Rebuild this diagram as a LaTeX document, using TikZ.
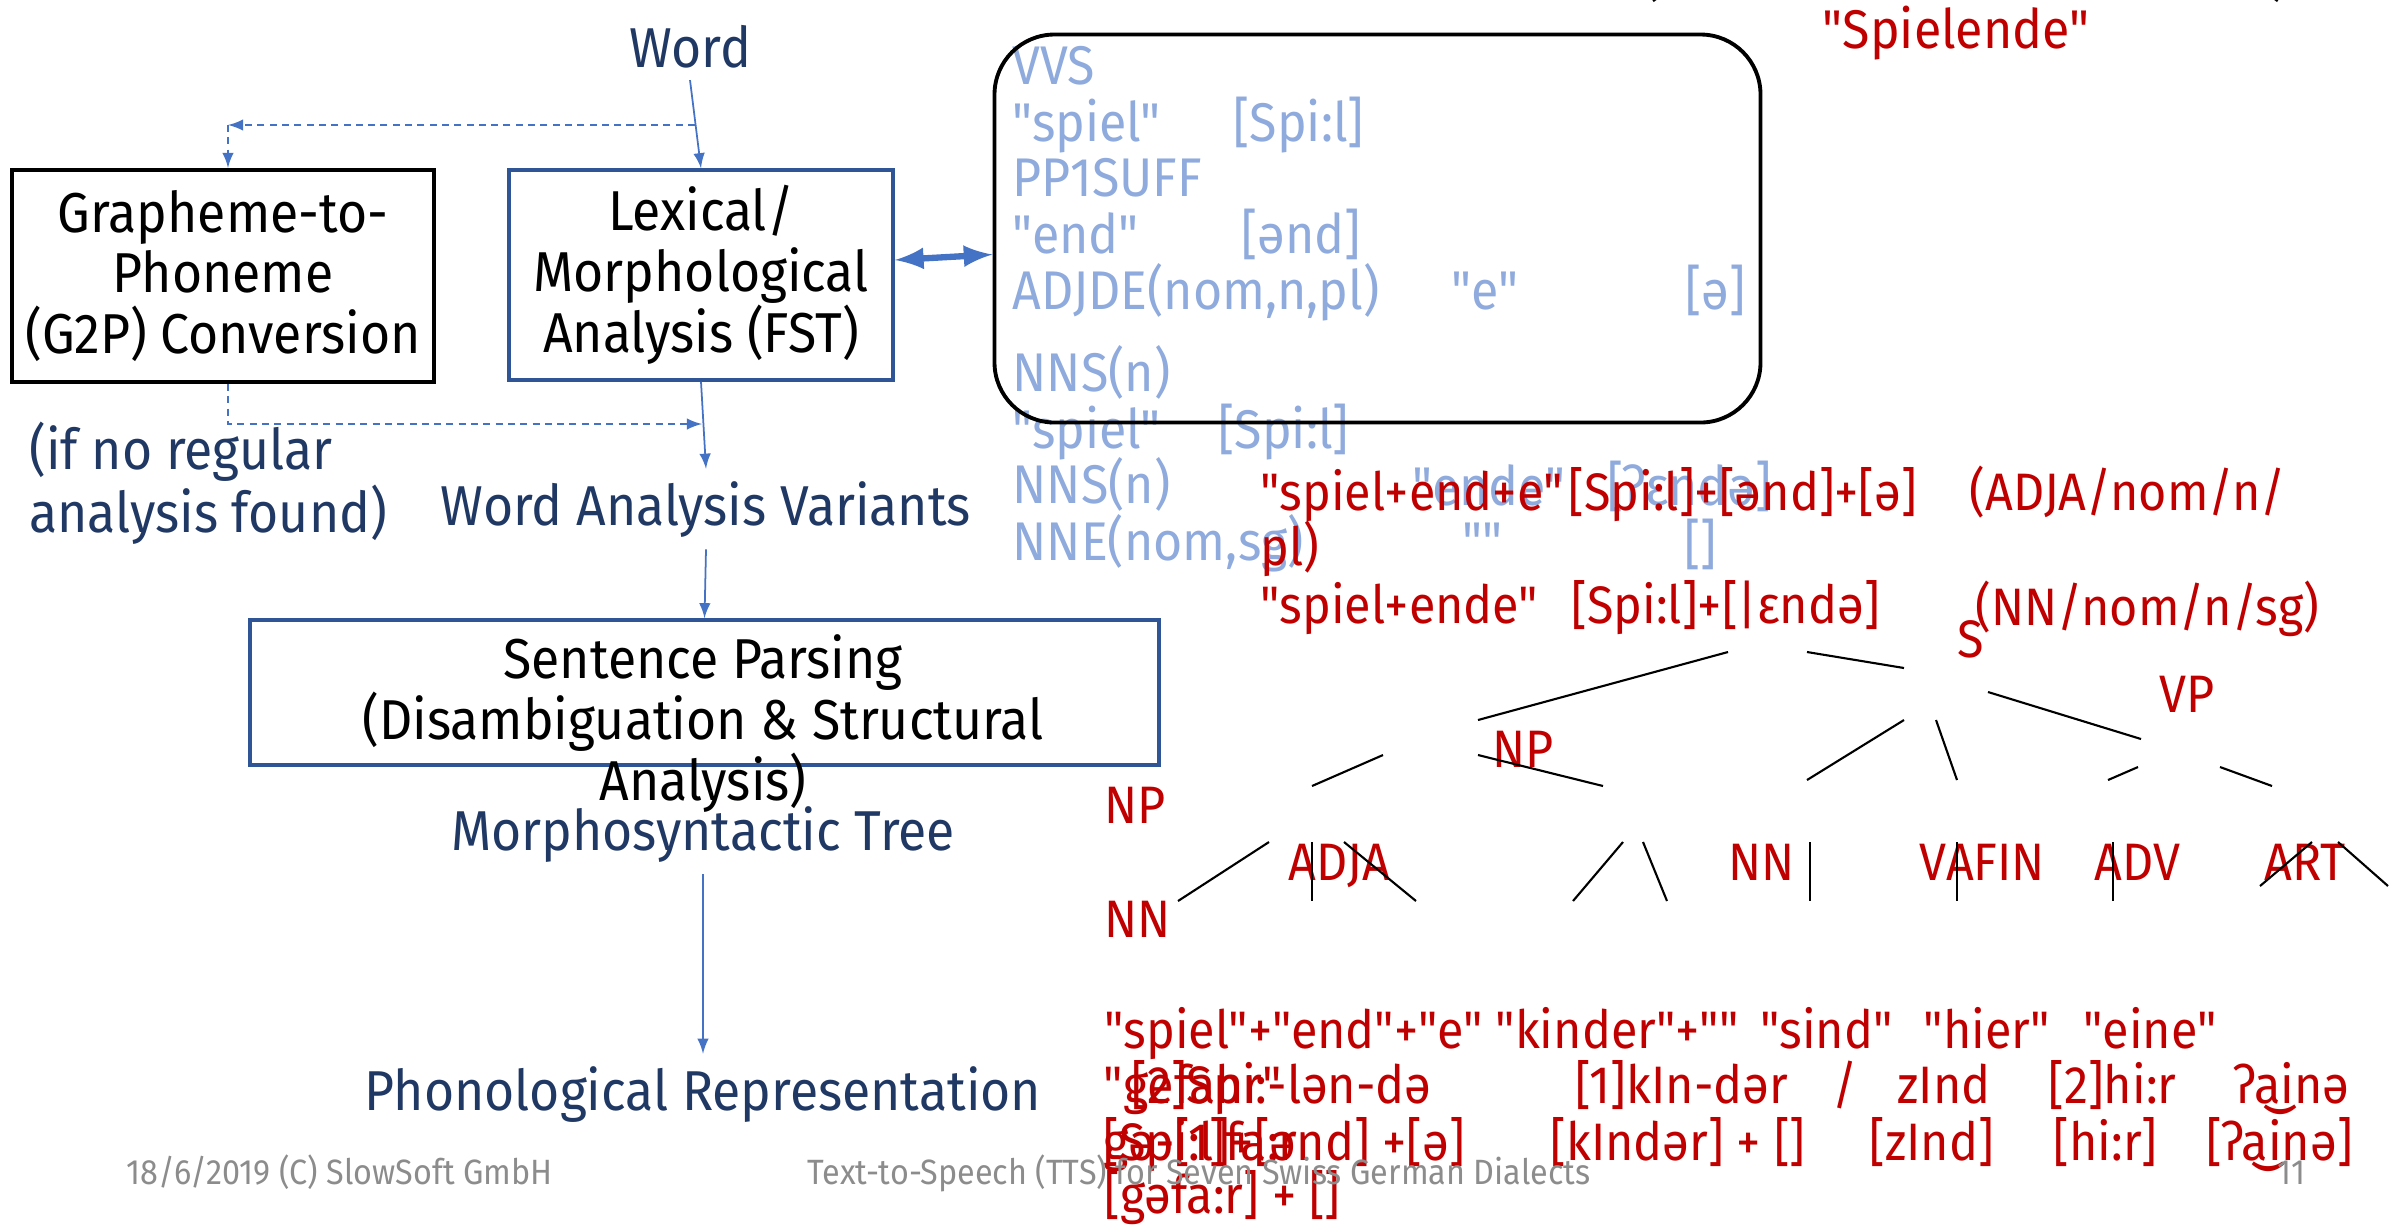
\documentclass[tikz,border=0pt]{standalone}
\usepackage{fontspec}
\setmainfont{Fira Sans}[FakeStretch=0.92, Ligatures=TeXOff]
\usepackage{tikz}
\usetikzlibrary{arrows,positioning}

\definecolor{navy}{HTML}{203864}
\definecolor{lexblue}{HTML}{8FAADC}
\definecolor{boxblue}{HTML}{2F5597}
\definecolor{linkblue}{HTML}{4472C4}
\definecolor{parsered}{HTML}{C00000}
\definecolor{footgrey}{HTML}{8C8C8C}

\newcommand{\slidefont}{\fontsize{16}{17.3}\selectfont}
\newcommand{\entryfont}{\fontsize{15.5}{17.3}\selectfont}
\newcommand{\tagfont}{\fontsize{15}{17.3}\selectfont}

\begin{document}
\begin{tikzpicture}[
    stagebox/.style={rectangle, draw=boxblue, line width=1pt, align=center, font=\slidefont, inner sep=0pt},
    flowlabel/.style={text=navy, font=\slidefont, anchor=base},
    lexline/.style={text=lexblue, font=\entryfont, anchor=base west, inner sep=0pt},
    parseline/.style={text=parsered, font=\tagfont, anchor=base west, inner sep=0pt},
    footer/.style={text=footgrey, font=\fontsize{10}{12}\selectfont, anchor=base west, inner sep=0pt},
    flow/.style={-latex, draw=linkblue, line width=0.5pt},
    fallback/.style={flow, dash pattern=on 2pt off 1.5pt},
    link/.style={latex-latex, draw=linkblue, line width=1.8pt},
    branch/.style={draw=black, line width=0.6pt}
]
\useasboundingbox (0,0) rectangle (24.05,-12.26);

% Pipeline on the left
\node[flowlabel] (word) at (6.90,-0.67) {Word};
\node[stagebox, draw=black, line width=1.2pt, minimum width=4.22cm, minimum height=2.12cm] (g2p) at (2.23,-2.76) {Grapheme-to-\\Phoneme\\(G2P) Conversion};
\node[stagebox, minimum width=3.84cm, minimum height=2.10cm] (lex) at (7.01,-2.75) {Lexical/\\Morphological\\Analysis (FST)};
\node[flowlabel, anchor=base west, align=left, font=\fontsize{16}{16.2}\selectfont] (noanalysis) at (0.17,-5.32) {(if no regular\\analysis found)};
\node[flowlabel] (variants) at (7.06,-5.25) {Word Analysis Variants};
\node[stagebox, minimum width=9.09cm, minimum height=1.45cm] (parse) at (7.045,-6.925) {};
\node[font=\slidefont, align=center, anchor=base, inner sep=0pt] (parsetext) at (7.03,-8.00) {Sentence Parsing\\(Disambiguation \& Structural\\Analysis)};
\node[flowlabel] (morph) at (7.03,-8.50) {Morphosyntactic Tree};
\node[flowlabel] (phon) at (7.03,-11.10) {Phonological Representation};

% Connectors
\coordinate (split) at (6.95,-1.25);
\coordinate (g2pcorner) at (2.28,-1.25);
\coordinate (g2pjoin) at (7.02,-4.24);
\draw[flow] (word.south) -- (lex.north);
\draw[fallback] (split) -- (g2pcorner);
\draw[fallback] (g2pcorner) -- (g2pcorner |- g2p.north);
\draw[fallback] (g2pcorner |- g2p.south) |- (g2pjoin);
\draw[flow] (lex.south) -- (variants.north);
\draw[flow] (variants.south) -- (parse.north);
\draw[flow] (morph.south) -- (phon.north);

% Lexicon entries
\node[lexline] (v1) at (10.12,-0.84) {VVS};
\node[lexline] (v2) at (10.12,-1.41) {"spiel"};
\node[lexline] (v2p) at (12.33,-1.41) {[Spi:l]};
\node[lexline] (v3) at (10.12,-1.96) {PP1SUFF};
\node[lexline] (v4) at (10.12,-2.53) {"end"};
\node[lexline] (v4p) at (12.41,-2.53) {[ənd]};
\node[lexline] (v5) at (10.12,-3.09) {ADJDE(nom,n,pl)};
\node[lexline] (v5s) at (14.51,-3.09) {"e"};
\node[lexline] (v5p) at (16.85,-3.09) {[ə]};
\node[lexline] (n1) at (10.12,-3.91) {NNS(n)};
\node[lexline] (n2) at (10.12,-4.48) {"spiel"};
\node[lexline] (n2p) at (12.18,-4.48) {[Spi:l]};
\node[lexline] (n3) at (10.12,-5.03) {NNS(n)};
\node[lexline] (n3s) at (14.12,-5.05) {"ende"};
\node[lexline] (n3p) at (16.07,-5.05) {[ʔɛndə]};
\node[lexline] (n4) at (10.12,-5.60) {NNE(nom,sg)};
\node[lexline] (n4s) at (14.62,-5.60) {""};
\node[lexline] (n4p) at (16.84,-5.63) {[]};
\node[draw=black, line width=1.1pt, rounded corners=0.6cm, minimum width=7.66cm, minimum height=3.88cm] (lexicon) at (13.775,-2.285) {};
\draw[link] ([yshift=1.5mm]lex.east) -- ([yshift=-2.6mm]lexicon.west);

% Cut-off heading
\node[font=\slidefont, anchor=base, inner sep=0pt] (openparen) at (16.51,0.06) {(};
\node[font=\slidefont, anchor=base, inner sep=0pt] (closeparen) at (22.81,0.06) {)};
\node[parseline, anchor=base, font=\entryfont] (spielende) at (19.56,-0.48) {"Spielende"};

% Analysis variants
\node[parseline] (a1) at (12.60,-5.10) {"spiel+end+e"};
\node[parseline] (a1p) at (15.68,-5.10) {[Spi:l]+[ənd]+[ə]};
\node[parseline] (a1t) at (19.69,-5.10) {(ADJA/nom/n/};
\node[parseline] (a1w) at (12.60,-5.65) {pl)};
\node[parseline] (a2) at (12.60,-6.23) {"spiel+ende"};
\node[parseline] (a2p) at (15.71,-6.23) {[Spi:l]+[|ɛndə]};
\node[parseline] (a2t) at (19.75,-6.25) {(NN/nom/n/sg)};

% Parse tree
\node[parseline] (s) at (19.57,-6.57) {S};
\node[parseline] (vp) at (21.59,-7.12) {VP};
\node[parseline] (np1) at (14.92,-7.67) {NP};
\node[parseline] (np2) at (11.04,-8.23) {NP};
\node[parseline] (adja) at (12.88,-8.80) {ADJA};
\node[parseline] (nn1) at (17.28,-8.80) {NN};
\node[parseline] (vafin) at (19.19,-8.80) {VAFIN};
\node[parseline] (adv) at (20.94,-8.80) {ADV};
\node[parseline] (art) at (22.64,-8.80) {ART};
\node[parseline] (nn2) at (11.04,-9.37) {NN};
\foreach \n/\xa/\ya/\xb/\yb in {
    a/17.28/-6.52/14.78/-7.20, b/18.07/-6.52/19.04/-6.68, c/19.88/-6.92/21.41/-7.39,
    d/13.83/-7.55/13.12/-7.86, e/14.78/-7.55/16.03/-7.86, f/19.04/-7.20/18.07/-7.80,
    g/19.36/-7.20/19.57/-7.80, h/21.38/-7.67/21.08/-7.80, i/22.20/-7.67/22.72/-7.86,
    j/12.69/-8.42/11.78/-9.01, k/13.12/-8.42/13.12/-9.01, l/13.44/-8.42/14.16/-9.01,
    m/16.23/-8.42/15.73/-9.01, n/16.43/-8.42/16.67/-9.01, o/18.10/-8.42/18.10/-9.01,
    p/19.57/-8.42/19.57/-9.01, q/21.13/-8.42/21.13/-9.01, r/23.12/-8.42/22.60/-8.86,
    s/23.38/-8.42/23.88/-8.86}{
  \coordinate (\n top) at (\xa,\ya);
  \coordinate (\n foot) at (\xb,\yb);
  \draw[branch] (\n top) -- (\n foot);
}

% Sentence transcription
\node[parseline] (w1) at (11.04,-10.48) {"spiel"+"end"+"e"};
\node[parseline] (w2) at (14.95,-10.48) {"kinder"+""};
\node[parseline] (w3) at (17.60,-10.48) {"sind"};
\node[parseline] (w4) at (19.23,-10.48) {"hier"};
\node[parseline] (w5) at (20.83,-10.48) {"eine"};
\node[parseline] (w6) at (11.03,-11.03) {"gefahr"};
\node[parseline] (s1) at (11.31,-11.03) {[2]Spi:-lən-də};
\node[parseline] (s2) at (15.75,-11.03) {[1]kIn-dər};
\node[parseline] (s3) at (18.32,-11.03) {/};
\node[parseline] (s4) at (18.97,-11.03) {zInd};
\node[parseline] (s5) at (20.48,-11.03) {[2]hi:r};
\node[parseline] (s6) at (22.34,-11.03) {ʔa͜inə};
\node[parseline] (s7) at (11.03,-11.60) {gə-[1]fa:r};
\node[parseline] (p1) at (11.03,-11.60) {[Spi:l]+[ənd] +[ə]};
\node[parseline] (p2) at (15.50,-11.60) {[kIndər] + []};
\node[parseline] (p3) at (18.69,-11.60) {[zInd]};
\node[parseline] (p4) at (20.53,-11.60) {[hi:r]};
\node[parseline] (p5) at (22.06,-11.60) {[ʔa͜inə]};
\node[parseline] (p6) at (11.04,-12.13) {[gəfa:r] + []};

% Footer
\node[footer] (date) at (1.26,-11.84) {18/6/2019 (C) SlowSoft GmbH};
\node[footer] (title) at (8.07,-11.84) {Text-to-Speech (TTS) for Seven Swiss German Dialects};
\node[footer] (pageno) at (22.77,-11.84) {11};

\end{tikzpicture}
\end{document}
